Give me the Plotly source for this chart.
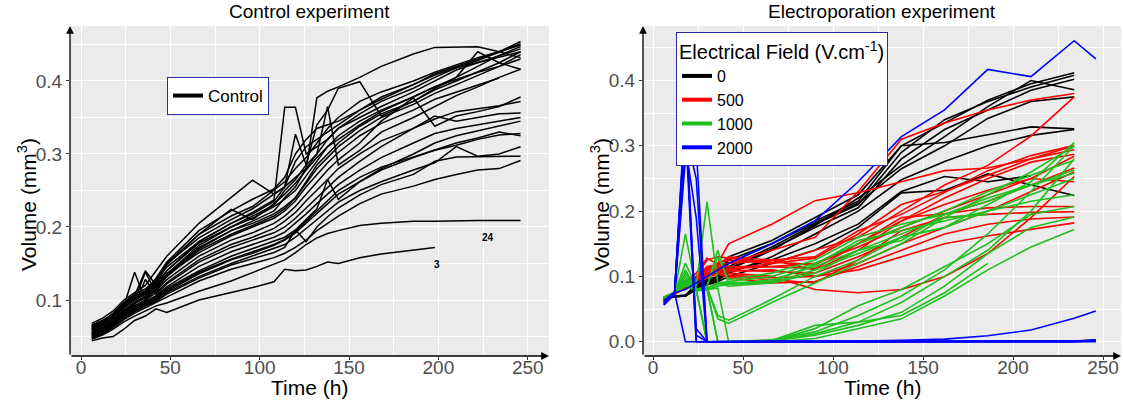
import plotly.graph_objects as go

# ---------------- Control experiment data ----------------
control_times = [6, 12, 18, 24, 30, 36, 42, 48, 66, 84, 96, 108, 114, 120, 126,
                 132, 138, 144, 156, 168, 186, 198, 210, 222, 234, 246]
control_volumes = [
    [.066, .072, .080, .095, .105, .112, .125, .150, .185, .210, .225, .245, .255, .268, .280, .377, .386, .392, .405, .420, .437, .446, .446, .447, .440, .432],
    [.068, .075, .085, .100, .110, .120, .140, .160, .205, .240, .264, .245, .255, .290, .310, .320, .330, .340, .360, .375, .395, .410, .420, .430, .440, .454],
    [.060, .068, .078, .092, .138, .100, .115, .140, .180, .205, .220, .237, .364, .364, .300, .310, .320, .335, .355, .372, .390, .405, .418, .428, .440, .451],
    [.058, .065, .075, .090, .100, .138, .110, .135, .175, .200, .215, .230, .250, .265, .285, .340, .360, .390, .399, .352, .372, .390, .405, .420, .435, .447],
    [.055, .062, .072, .085, .095, .105, .120, .135, .170, .195, .208, .222, .240, .255, .280, .300, .365, .285, .305, .330, .350, .365, .380, .392, .405, .416],
    [.064, .070, .082, .097, .108, .115, .128, .145, .180, .205, .218, .235, .255, .327, .285, .300, .320, .335, .350, .365, .385, .400, .415, .425, .435, .444],
    [.062, .069, .079, .093, .103, .110, .122, .140, .178, .200, .212, .228, .238, .250, .270, .290, .310, .325, .345, .360, .378, .392, .405, .440, .425, .416],
    [.060, .067, .077, .090, .100, .108, .118, .136, .172, .195, .205, .218, .228, .240, .262, .285, .300, .315, .338, .355, .372, .388, .400, .412, .425, .440],
    [.057, .063, .073, .087, .097, .105, .115, .132, .168, .190, .202, .215, .225, .240, .260, .280, .295, .310, .332, .350, .368, .383, .395, .408, .420, .436],
    [.059, .066, .076, .090, .100, .108, .118, .134, .165, .188, .200, .212, .222, .236, .255, .272, .288, .302, .325, .342, .360, .375, .385, .395, .404, None],
    [.056, .062, .072, .085, .095, .103, .113, .128, .160, .182, .192, .205, .215, .228, .245, .262, .278, .292, .315, .345, .377, .338, .352, .358, .365, .378],
    [.054, .060, .070, .083, .092, .100, .110, .124, .155, .176, .186, .198, .208, .220, .236, .250, .265, .280, .300, .318, .335, .348, .358, .362, .366, .372],
    [.055, .061, .071, .084, .093, .128, .108, .122, .152, .172, .182, .192, .200, .212, .226, .240, .255, .268, .290, .310, .335, .352, .345, .350, .355, .356],
    [.052, .058, .068, .080, .090, .098, .106, .118, .146, .166, .176, .186, .193, .205, .218, .232, .245, .258, .278, .295, .315, .328, .335, .340, .345, .350],
    [.053, .059, .069, .081, .090, .097, .105, .116, .140, .160, .170, .180, .186, .196, .210, .225, .265, .238, .262, .280, .300, .315, .325, .332, .338, .345],
    [.050, .056, .066, .078, .087, .094, .102, .112, .136, .155, .164, .175, .182, .192, .205, .218, .232, .245, .262, .278, .295, .305, .312, .320, .326, .328],
    [.051, .057, .067, .079, .088, .095, .103, .114, .138, .156, .166, .176, .183, .194, .208, .222, .236, .250, .268, .282, .296, .305, .315, .322, .330, .325],
    [.049, .055, .065, .076, .085, .092, .100, .110, .132, .150, .160, .170, .176, .186, .198, .210, .222, .234, .250, .262, .278, .288, .310, .297, .300, .310],
    [.048, .054, .064, .075, .084, .091, .098, .108, .130, .148, .156, .165, .172, .196, .180, .200, .214, .226, .244, .258, .272, .290, .296, .296, .297, .297],
    [.047, .053, .062, .073, .082, .089, .096, .104, .126, .142, .150, .158, .164, .172, .182, .195, .205, .215, .232, .245, .256, .265, .272, .278, .280, .291],
    [.046, .052, .060, .070, .078, .085, .092, .096, .112, .126, .138, .149, .155, .165, .176, .185, .191, .195, .202, .205, .208, .208, .209, .209, .209, .209],
    [.044, .048, .050, .060, .072, .078, .088, .083, .100, .110, .117, .125, .142, .140, .141, .146, .152, .150, .158, .163, .168, .172, None, None, None, None],
    [.065, .071, .081, .096, .106, .140, .120, .148, .190, .215, .228, .250, .262, .280, .295, .315, .335, .350, .372, .385, .400, .412, .422, .432, .440, .449],
    [.063, .070, .080, .094, .104, .112, .130, .152, .195, .222, .238, .252, .268, .300, .320, .335, .340, .345, .360, .378, .395, .408, .418, .425, .432, .440],
    [.061, .068, .078, .092, .102, .110, .125, .150, .190, .224, .210, .232, .245, .260, .278, .295, .310, .320, .340, .358, .378, .392, .402, .412, .420, .430],
]
control_tags = ["24", "3"]

# ---------------- Electroporation experiment data ----------------
electro_times = [6, 12, 18, 24, 30, 36, 42, 66, 90, 114, 138, 162, 186, 210, 234, 246]
field_levels = ["0", "500", "1000", "2000"]

volumes_0 = [
    [.068, .070, .070, .085, .092, .098, .120, .150, .185, .215, .300, .335, .370, .395, .412, None],
    [.066, .070, .070, .082, .090, .096, .115, .145, .180, .210, .290, .340, .368, .390, .408, None],
    [.067, .070, .071, .084, .091, .097, .112, .142, .175, .205, .280, .325, .355, .385, .402, None],
    [.065, .069, .070, .083, .090, .095, .110, .140, .178, .220, .270, .314, .360, .400, .386, None],
    [.066, .070, .071, .086, .093, .100, .125, .150, .182, .212, .265, .300, .342, .368, .375, None],
    [.068, .070, .071, .088, .095, .100, .130, .155, .190, .225, .300, .305, .317, .329, .326, None],
    [.064, .069, .070, .080, .088, .094, .105, .130, .165, .200, .248, .276, .300, .316, .325, None],
    [.065, .069, .070, .080, .087, .092, .100, .120, .140, .175, .228, .232, .257, .240, .224, None],
    [.066, .070, .070, .082, .089, .095, .108, .125, .150, .180, .230, .253, .245, .254, None, None],
]
volumes_500 = [
    [.068, .075, .090, .100, .110, .120, .150, .180, .216, .228, .245, .262, .266, .280, .300, None],
    [.068, .075, .088, .095, .105, .112, .120, .140, .160, .230, .310, .335, .355, .370, .380, None],
    [.066, .074, .085, .090, .098, .105, .110, .120, .140, .160, .200, .240, .270, .315, .375, None],
    [.067, .075, .092, .105, .128, .118, .130, .125, .130, .170, .195, .228, .262, .285, .301, None],
    [.066, .074, .086, .098, .110, .120, .125, .120, .128, .165, .210, .230, .255, .280, .294, None],
    [.066, .075, .090, .100, .125, .130, .128, .122, .118, .150, .185, .220, .250, .275, .287, None],
    [.065, .073, .084, .095, .105, .110, .112, .115, .120, .145, .175, .200, .225, .250, .284, None],
    [.067, .074, .087, .096, .108, .115, .110, .108, .105, .130, .160, .195, .215, .240, .266, None],
    [.066, .073, .083, .092, .100, .105, .108, .110, .100, .120, .150, .175, .200, .230, .260, None],
    [.065, .074, .085, .094, .103, .110, .105, .100, .080, .075, .080, .100, .135, .190, .253, None],
    [.067, .075, .088, .098, .115, .118, .115, .115, .112, .150, .190, .196, .205, .207, .207, None],
    [.066, .074, .086, .095, .102, .108, .100, .095, .090, .125, .170, .190, .195, .198, .199, None],
    [.065, .073, .082, .090, .098, .104, .098, .090, .092, .115, .140, .165, .180, .188, .191, None],
    [.066, .074, .085, .093, .100, .106, .102, .098, .100, .110, .130, .150, .162, .172, .182, None],
    [.067, .075, .090, .100, .112, .118, .120, .125, .110, .140, .185, .210, .232, .250, .245, None],
]
volumes_1000 = [
    [.068, .075, .120, .085, .214, .090, .085, .090, .110, .135, .160, .175, .210, .245, .305, None],
    [.068, .076, .165, .080, .085, .140, .088, .095, .115, .140, .165, .190, .225, .260, .300, None],
    [.067, .075, .100, .078, .082, .090, .092, .100, .120, .150, .175, .200, .230, .255, .278, None],
    [.068, .075, .110, .080, .085, .130, .095, .105, .125, .160, .180, .195, .215, .240, .263, None],
    [.067, .074, .090, .078, .080, .085, .088, .090, .105, .140, .155, .195, .220, .240, .258, None],
    [.068, .075, .095, .080, .082, .088, .090, .092, .118, .155, .170, .185, .200, .215, .225, None],
    [.067, .075, .105, .079, .084, .035, .028, .060, .090, .120, .150, .190, .195, None, None, None],
    [.068, .075, .095, .080, .083, .040, .033, .065, .100, .125, .160, .175, .200, .225, .250, None],
    [.067, .074, .085, .078, .080, .082, .000, .003, .015, .040, .070, .110, .165, .230, .300, None],
    [.068, .075, .090, .080, .000, .000, .000, .002, .012, .030, .060, .100, .140, .200, .280, None],
    [.067, .074, .088, .078, .082, .000, .000, .001, .020, .055, .080, .115, .150, .195, .207, None],
    [.068, .075, .092, .079, .000, .000, .000, .001, .010, .025, .045, .085, .135, .175, .191, None],
    [.067, .075, .086, .078, .080, .000, .000, .002, .025, .030, .040, .075, .120, None, None, None],
    [.068, .074, .090, .080, .000, .000, .000, .000, .005, .020, .035, .070, .110, .145, .172, None],
]
volumes_2000 = [
    [.060, .075, .080, .090, .100, .110, .120, .150, .185, .245, .314, .355, .417, .406, .461, .433],
    [.058, .075, .000, .000, .000, .000, .000, .000, .000, .001, .002, .004, .009, .018, .036, .047],
    [.060, .075, .330, .000, .000, .000, .000, .000, .000, .000, .000, .000, .000, .000, .001, .002],
    [.062, .076, .345, .020, .000, .000, .000, .000, .000, .000, .000, .000, .000, .000, .001, .003],
    [.057, .074, .300, .190, .000, .000, .000, .000, .000, .000, .000, .000, .000, .000, .000, .001],
    [.059, .075, .320, .250, .000, .000, .000, .000, .000, .000, .000, .000, .000, .000, .000, .002],
    [.061, .075, .350, .000, .000, .000, .000, .000, .000, .000, .000, .000, .000, .000, .001, .001],
    [.056, .073, .280, .300, .000, .000, .000, .000, .000, .000, .000, .000, .000, .000, .000, .000],
    [.063, .076, .360, .010, .000, .000, .000, .000, .000, .000, .000, .000, .000, .000, .000, .002],
]

field_colors = ["#000000", "#FF0000", "#1EC01E", "#0000FF"]

# ---------------- figure ----------------
FONT = "Arial, Liberation Sans, sans-serif"
fig = go.Figure()

for vals in control_volumes:
    fig.add_trace(go.Scatter(x=control_times, y=vals, mode="lines",
                             line=dict(color="black", width=1.5),
                             showlegend=False, hoverinfo="skip",
                             xaxis="x", yaxis="y"))
fig.add_trace(go.Scatter(x=[None], y=[None], mode="lines", name="Control",
                         line=dict(color="black", width=4),
                         legend="legend", xaxis="x", yaxis="y"))

groups = [volumes_0, volumes_500, volumes_1000, volumes_2000]
for level, color, group in zip(field_levels, field_colors, groups):
    for vals in group:
        fig.add_trace(go.Scatter(x=electro_times, y=vals, mode="lines",
                                 line=dict(color=color, width=1.6),
                                 showlegend=False, hoverinfo="skip",
                                 xaxis="x2", yaxis="y2"))
for level, color in zip(field_levels, field_colors):
    fig.add_trace(go.Scatter(x=[None], y=[None], mode="lines", name=level,
                             line=dict(color=color, width=4),
                             legend="legend2", xaxis="x2", yaxis="y2"))

W, H = 1123, 408
top, bottom = 26, 52
ph = H - top - bottom

axis_common = dict(
    showgrid=True, gridcolor="white", gridwidth=1.1,
    zeroline=False, showline=False, automargin=False,
    ticks="outside", ticklen=3, tickcolor="#333333", tickwidth=1,
    tickfont=dict(size=19, color="#4D4D4D", family=FONT),
)
minor_x = dict(showgrid=True, gridcolor="white", gridwidth=0.5,
               tickvals=[25, 75, 125, 175, 225], ticks="")
minor_y = dict(showgrid=True, gridcolor="white", gridwidth=0.5,
               tickvals=[0.05, 0.15, 0.25, 0.35, 0.45], ticks="")

fig.update_layout(
    width=W, height=H,
    margin=dict(l=0, r=0, t=top, b=bottom),
    paper_bgcolor="white",
    plot_bgcolor="#EBEBEB",
    font=dict(family=FONT, color="black"),
    xaxis=dict(domain=[70 / W, 549 / W], range=[-6.16, 261.9],
               tickvals=[0, 50, 100, 150, 200, 250], minor=minor_x,
               anchor="y", ticklabelstandoff=-9, **axis_common),
    yaxis=dict(domain=[0, 1], range=[0.0233, 0.4753],
               tickvals=[0.1, 0.2, 0.3, 0.4], ticktext=["0.1", "0.2", "0.3", "0.4"],
               minor=minor_y, anchor="x", **axis_common),
    xaxis2=dict(domain=[643 / W, 1121 / W], range=[-5.56, 260],
                tickvals=[0, 50, 100, 150, 200, 250], minor=minor_x,
                anchor="y2", ticklabelstandoff=-9, **axis_common),
    yaxis2=dict(domain=[0, 1], range=[-0.0219, 0.4835],
                tickvals=[0.0, 0.1, 0.2, 0.3, 0.4], ticktext=["0.0", "0.1", "0.2", "0.3", "0.4"],
                minor=minor_y, anchor="x2", **axis_common),
    legend=dict(x=167 / W, y=(H - bottom - 77) / ph, xanchor="left", yanchor="top",
                bgcolor="white", bordercolor="#2B2BA8", borderwidth=1,
                font=dict(size=17, color="black"), itemwidth=30),
    legend2=dict(x=676 / W, y=(H - bottom - 32) / ph, xanchor="left", yanchor="top",
                 bgcolor="white", bordercolor="#2B2BA8", borderwidth=1,
                 font=dict(size=16, color="black"), itemwidth=30, tracegroupgap=0,
                 title=dict(text="Electrical Field (V.cm<sup>-1</sup>)", font=dict(size=20), side="top")),
)

def px_y(py):
    return (H - bottom - py) / ph

annotations = [
    dict(text="Control experiment", x=(70 + 549) / 2 / W, y=px_y(12), xref="paper", yref="paper",
         xanchor="center", yanchor="middle", showarrow=False, font=dict(size=19)),
    dict(text="Electroporation experiment", x=(643 + 1121) / 2 / W, y=px_y(12), xref="paper", yref="paper",
         xanchor="center", yanchor="middle", showarrow=False, font=dict(size=19)),
    dict(text="Time (h)", x=(70 + 549) / 2 / W, y=px_y(387), xref="paper", yref="paper",
         xanchor="center", yanchor="middle", showarrow=False, font=dict(size=21)),
    dict(text="Time (h)", x=(643 + 1121) / 2 / W, y=px_y(387), xref="paper", yref="paper",
         xanchor="center", yanchor="middle", showarrow=False, font=dict(size=21)),
    dict(text="Volume (mm<sup>3</sup>)", x=27 / W, y=px_y(205), xref="paper", yref="paper",
         xanchor="center", yanchor="middle", textangle=-90, showarrow=False, font=dict(size=21)),
    dict(text="Volume (mm<sup>3</sup>)", x=600 / W, y=px_y(205), xref="paper", yref="paper",
         xanchor="center", yanchor="middle", textangle=-90, showarrow=False, font=dict(size=21)),
    dict(text="<b>" + control_tags[0] + "</b>", x=228, y=0.186, xref="x", yref="y",
         showarrow=False, font=dict(size=10)),
    dict(text="<b>" + control_tags[1] + "</b>", x=199, y=0.149, xref="x", yref="y",
         showarrow=False, font=dict(size=10)),
]
for xn, yn in [("x", "y"), ("x2", "y2")]:
    annotations.append(dict(text="", x=0, y=1, ax=0, ay=0,
                            xref=f"{xn} domain", yref=f"{yn} domain",
                            axref=f"{xn} domain", ayref=f"{yn} domain",
                            showarrow=True, arrowhead=2, arrowsize=1.2, arrowwidth=1.3,
                            arrowcolor="black"))
    annotations.append(dict(text="", x=1, y=0, ax=0, ay=0,
                            xref=f"{xn} domain", yref=f"{yn} domain",
                            axref=f"{xn} domain", ayref=f"{yn} domain",
                            showarrow=True, arrowhead=2, arrowsize=1.2, arrowwidth=1.3,
                            arrowcolor="black"))
fig.update_layout(annotations=annotations)

fig.write_html("out.html", config={"displayModeBar": False},
               post_script="document.body.style.margin='0';document.body.style.overflow='hidden';")
